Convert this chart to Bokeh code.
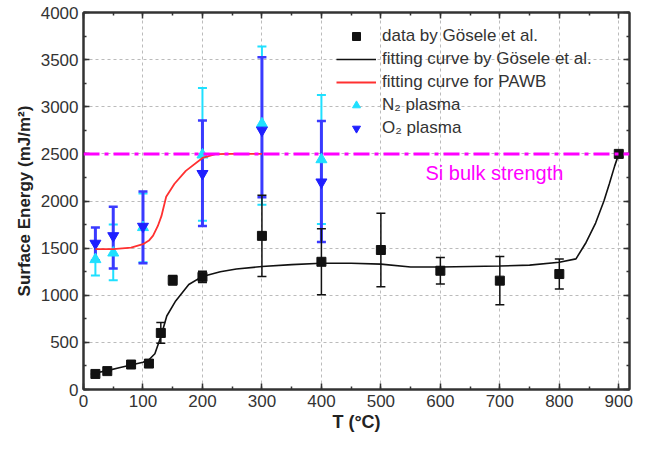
from bokeh.plotting import figure
from bokeh.models import (Range1d, LinearAxis, Whisker, TeeHead, ColumnDataSource,
                          Legend, LegendItem, Span, Label, FixedTicker, CustomLabelingPolicy)
from bokeh.embed import file_html
from bokeh.resources import INLINE

# ---- data ----
gosele_T = [20, 40, 80, 110, 130, 150, 200, 300, 400, 500, 600, 700, 800, 900]
gosele_E = [165, 195, 265, 275, 600, 1160, 1195, 1630, 1355, 1480, 1260, 1155, 1225, 2500]
gosele_err = [0, 0, 0, 40, 110, 50, 60, 430, 350, 390, 140, 255, 160, 0]

fit_T = [20, 40, 60, 80, 100, 110, 120, 130, 140, 155, 177, 200, 230, 257, 300, 350,
         400, 450, 500, 550, 600, 650, 700, 750, 800, 828, 845, 861, 875, 884, 893, 900]
fit_E = [175, 200, 230, 260, 290, 315, 380, 560, 780, 940, 1114, 1200, 1250, 1278, 1305, 1325,
         1340, 1340, 1330, 1300, 1300, 1305, 1310, 1320, 1350, 1386, 1560, 1766, 2000, 2181, 2370, 2500]

pawb_T = [20, 50, 80, 100, 110, 117, 125, 131, 139, 153, 172, 200, 222, 250, 300]
pawb_E = [1490, 1490, 1505, 1542, 1580, 1632, 1735, 1839, 2045, 2183, 2320, 2457, 2498, 2500, 2500]

plasma_T = [20, 50, 100, 200, 300, 400]
n2_E = [1380, 1450, 1720, 2490, 2820, 2440]
n2_lo = [1210, 1160, 1350, 1790, 1960, 1755]
n2_hi = [1560, 1750, 2080, 3200, 3640, 3125]
o2_E = [1550, 1630, 1730, 2290, 2750, 2200]
o2_lo = [1370, 1285, 1340, 1735, 2040, 1565]
o2_hi = [1720, 1940, 2100, 2855, 3525, 2850]

si_bulk = 2500
si_label = "Si bulk strength"
si_label_pos = (575, 2300)

x_ticks = list(range(0, 901, 100))
x_minor = list(range(0, 918, 50))
y_ticks = list(range(0, 4001, 500))
y_minor = list(range(0, 4001, 250))

FONT = "Liberation Sans"
AX = "#333333"

p = figure(width=634, height=434, output_backend="svg", toolbar_location=None,
           x_range=Range1d(0, 918), y_range=Range1d(0, 4000),
           min_border_left=83, min_border_right=0, min_border_top=12, min_border_bottom=42)
p.background_fill_color = "white"
p.outline_line_color = AX
p.outline_line_width = 2

xt = FixedTicker(ticks=x_ticks, minor_ticks=x_minor)
yt = FixedTicker(ticks=y_ticks, minor_ticks=y_minor)

hide_labels = CustomLabelingPolicy(code="""
const n = indices.size
for (let i = 0; i < n; i++) {
  if (indices.unset) { indices.unset(i) } else { indices.set(i, false) }
}
return indices
""")

def style_axis(ax, labels=True):
    ax.axis_line_color = AX
    ax.axis_line_width = 2
    ax.major_tick_line_color = AX
    ax.minor_tick_line_color = AX
    ax.major_tick_line_width = 1.5
    ax.minor_tick_line_width = 1.5
    ax.major_tick_in = 6
    ax.major_tick_out = 0
    ax.minor_tick_in = 3
    ax.minor_tick_out = 0
    if labels:
        ax.major_label_text_font = FONT
        ax.major_label_text_font_size = "17px"
        ax.major_label_text_color = AX
        ax.major_label_standoff = 5
    else:
        ax.major_label_text_font_size = "1px"
        ax.major_label_standoff = 0
        ax.major_label_policy = hide_labels

p.xaxis.ticker = xt
p.yaxis.ticker = yt
for ax in p.xaxis + p.yaxis:
    style_axis(ax)
p.xaxis.axis_label = "T (°C)"
p.yaxis.axis_label = "Surface Energy (mJ/m²)"
for ax in p.xaxis + p.yaxis:
    ax.axis_label_text_font = FONT
    ax.axis_label_text_font_size = "17px"
    ax.axis_label_text_font_style = "bold"
    ax.axis_label_text_color = "#222222"
    ax.axis_label_standoff = 4
p.xaxis.axis_label_text_font_size = "18px"
p.xaxis.axis_label_standoff = 2

top = LinearAxis(ticker=xt)
right = LinearAxis(ticker=yt)
style_axis(top, labels=False)
style_axis(right, labels=False)
p.add_layout(top, "above")
p.add_layout(right, "right")

p.xgrid.ticker = xt
p.ygrid.ticker = yt
for g in (p.xgrid, p.ygrid):
    g.grid_line_color = "#bbbbbb"
    g.grid_line_dash = "3 3"
    g.grid_line_width = 1

# ---- plasma data with error bars ----
CYAN = "#1fe0ff"
BLUE = "#1f1fff"
BLUE_BAR = "#3a3aff"
n2_src = ColumnDataSource(dict(x=plasma_T, y=n2_E, lo=n2_lo, hi=n2_hi))
o2_src = ColumnDataSource(dict(x=plasma_T, y=o2_E, lo=o2_lo, hi=o2_hi))

p.add_layout(Whisker(source=n2_src, base="x", lower="lo", upper="hi",
                     line_color=CYAN, line_width=2,
                     upper_head=TeeHead(size=9, line_color=CYAN, line_width=2),
                     lower_head=TeeHead(size=9, line_color=CYAN, line_width=2)))
r_n2 = p.scatter("x", "y", source=n2_src, marker="triangle", size=11,
                 fill_color=CYAN, line_color=CYAN)
p.add_layout(Whisker(source=o2_src, base="x", lower="lo", upper="hi",
                     line_color=BLUE_BAR, line_width=3,
                     upper_head=TeeHead(size=9, line_color=BLUE_BAR, line_width=2.5),
                     lower_head=TeeHead(size=9, line_color=BLUE_BAR, line_width=2.5)))
r_o2 = p.scatter("x", "y", source=o2_src, marker="inverted_triangle", size=11,
                 fill_color=BLUE, line_color=BLUE)

# ---- Gosele data ----
g_src = ColumnDataSource(dict(x=gosele_T, y=gosele_E,
                              lo=[e - d for e, d in zip(gosele_E, gosele_err)],
                              hi=[e + d for e, d in zip(gosele_E, gosele_err)]))
p.add_layout(Whisker(source=g_src, base="x", lower="lo", upper="hi",
                     line_color="#111111", line_width=1.5,
                     upper_head=TeeHead(size=9, line_color="#111111", line_width=1.5),
                     lower_head=TeeHead(size=9, line_color="#111111", line_width=1.5)))
r_fit = p.line(fit_T, fit_E, line_color="#111111", line_width=1.6)
r_red = p.line(pawb_T, pawb_E, line_color="#ff3030", line_width=1.8)
r_sq = p.scatter("x", "y", source=g_src, marker="square", size=9,
                 fill_color="#111111", line_color="#111111")

p.add_layout(Span(location=si_bulk, dimension="width", line_color="#ff00ff",
                  line_width=3, line_dash="16 5 4 5"))
p.add_layout(Label(x=si_label_pos[0], y=si_label_pos[1], text=si_label,
                   text_font=FONT, text_font_size="20px", text_color="#ff00ff",
                   text_baseline="middle", text_align="left"))

legend = Legend(items=[
    LegendItem(label="data by Gösele et al.", renderers=[r_sq]),
    LegendItem(label="fitting curve by Gösele et al.", renderers=[r_fit]),
    LegendItem(label="fitting curve for PAWB", renderers=[r_red]),
    LegendItem(label="N₂ plasma", renderers=[r_n2]),
    LegendItem(label="O₂ plasma", renderers=[r_o2]),
], location=(253, 251))
legend.border_line_color = None
legend.background_fill_alpha = 0
legend.padding = 4
legend.margin = 0
legend.spacing = 3
legend.glyph_width = 40
legend.glyph_height = 20
legend.label_height = 20
legend.label_standoff = 6
legend.label_text_font = FONT
legend.label_text_font_size = "17px"
legend.label_text_color = "#333333"
p.add_layout(legend, "center")

open("out.html", "w").write(file_html(p, INLINE))
